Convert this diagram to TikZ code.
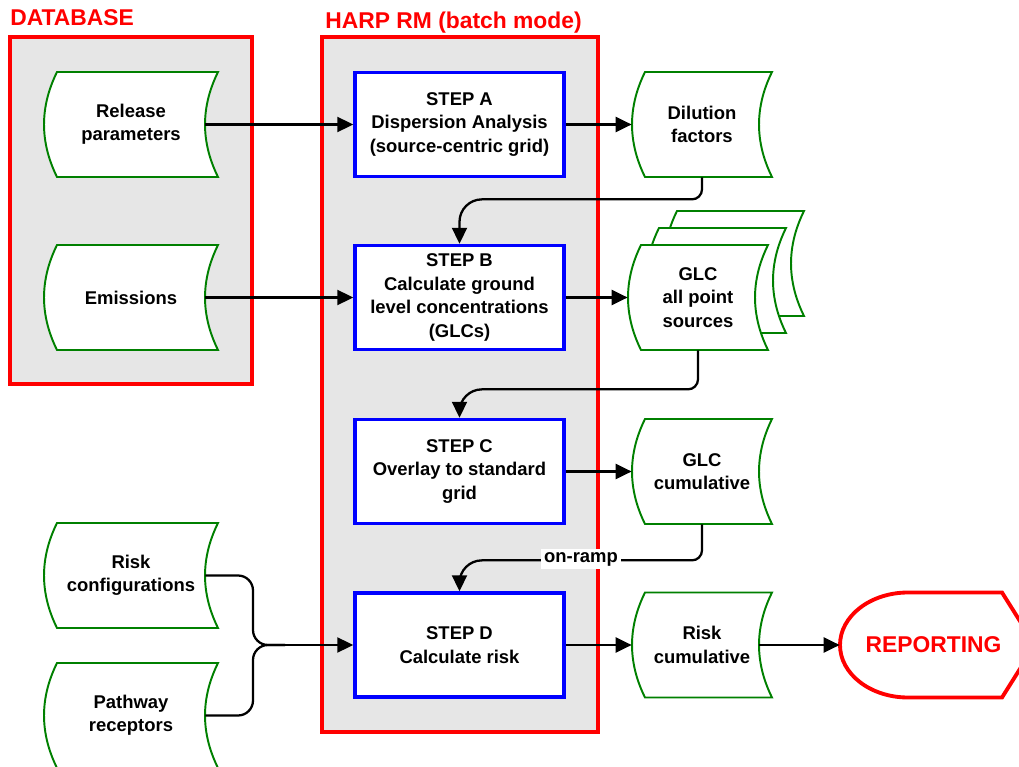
\documentclass[tikz,border=0pt]{standalone}
\usepackage{fontspec}
\setmainfont{Liberation Sans}
\usetikzlibrary{calc, arrows.meta}

\definecolor{panelgray}{RGB}{230,230,230}
\definecolor{storegreen}{RGB}{0,128,0}

\tikzset{
  panel/.style = {draw=red, fill=panelgray, line width=2.2pt},
  panel title/.style = {text=red, anchor=base west, inner sep=0pt,
                        font=\fontsize{13}{15}\selectfont\bfseries},
  stepbox/.style = {draw=blue, fill=white, line width=2pt, align=center,
                    minimum width=4.18cm, minimum height=2.08cm,
                    font=\fontsize{10.5}{13.3}\selectfont\bfseries},
  storeline/.style = {draw=storegreen, fill=white, line width=1.1pt},
  storetext/.style = {inner sep=0pt, align=center,
                      font=\fontsize{10.5}{13.3}\selectfont\bfseries},
  link/.style = {line width=1.3pt},
  arrow/.style = {link, -{Triangle[length=0.32cm, width=0.3cm]}},
  ramp/.style = {fill=white, inner sep=1.5pt, font=\fontsize{10.5}{13.3}\selectfont\bfseries}
}

% depth of the curved sides of a data store
\newcommand{\dip}{0.26cm}
% name, left, top, right, bottom, text
\newcommand{\datastore}[6]{%
  \draw[storeline] ({#2+13},#3) -- (#4,#3)
     .. controls ({#4-17.3},{#3+(#5-#3)/3}) and ({#4-17.3},{#5-(#5-#3)/3}) .. (#4,#5)
     -- ({#2+13},#5)
     .. controls ({#2-4.3},{#5-(#5-#3)/3}) and ({#2-4.3},{#3+(#5-#3)/3}) .. ({#2+13},#3)
     -- cycle;
  \node[storetext, minimum width={(#4-#2)*0.02cm}, minimum height={(#5-#3)*0.02cm}]
     (#1) at ({(#2+#4)/2},{(#3+#5)/2}) {#6};
}

\begin{document}
\begin{tikzpicture}[x=0.02cm, y=-0.02cm]
   \useasboundingbox (0,0) rectangle (1019,767);

   % panels
   \draw[panel] (10,37) rectangle (252,384);
   \node[panel title] (dbtitle) at (10,26) {DATABASE};
   \draw[panel] (322,37) rectangle (598,732);
   \node[panel title] (harptitle) at (325,29) {HARP RM (batch mode)};

   % steps
   \node[stepbox] (A) at (459.5,124.5) {STEP A\\Dispersion Analysis\\(source-centric grid)};
   \node[stepbox] (B) at (459.5,297.5) {STEP B\\Calculate ground\\level concentrations\\(GLCs)};
   \node[stepbox] (C) at (459.5,471.5) {STEP C\\Overlay to standard\\grid};
   \node[stepbox] (D) at (459.5,645)   {STEP D\\Calculate risk};

   % data
   \datastore{rel}{44}{72}{218}{177}{Release\\parameters}
   \datastore{emi}{44}{245}{218}{350}{Emissions}
   \datastore{rcf}{44}{523}{218}{628}{Risk\\configurations}
   \datastore{pwr}{44}{663}{218}{768}{Pathway\\receptors}
   \datastore{dil}{632}{72}{772}{177}{Dilution\\factors}
   \datastore{glcback}{664}{211}{804}{316}{}
   \datastore{glcmid}{646}{228}{786}{333}{}
   \datastore{glc}{628}{245}{768}{350}{GLC\\all point\\sources}
   \datastore{glcc}{632}{419}{772}{524}{GLC\\cumulative}
   \datastore{riskc}{632}{592.5}{772}{697.5}{Risk\\cumulative}

   \draw[draw=red, line width=2.2pt] (908,592.5) -- (1002,592.5) -- (1035,645) -- (1002,697.5) -- (908,697.5)
      .. controls (870.5,697.5) and (840,674) .. (840,645)
      .. controls (840,616) and (870.5,592.5) .. (908,592.5) -- cycle;
   \node[text=red, font=\fontsize{13}{15}\selectfont\bfseries, minimum width=3.74cm,
         minimum height=2.1cm, inner sep=0pt] (rep) at (933.5,645) {REPORTING};

   % connectors
   \draw[arrow] ([xshift=-\dip]rel.east) -- (A.west);
   \draw[arrow] (A.east) -- (dil.west);
   \draw[arrow, rounded corners=0.2cm] (dil.south) -- ++(0,22) [rounded corners=0.45cm] -| (B.north);
   \draw[arrow] ([xshift=-\dip]emi.east) -- (B.west);
   \draw[arrow] (B.east) -- (glc.west);
   \draw[arrow, rounded corners=0.2cm] (glc.south) -- ++(0,39) [rounded corners=0.45cm] -| (C.north);
   \draw[arrow] (C.east) -- (glcc.west);
   \draw[arrow, rounded corners=0.2cm] (glcc.south) -- ++(0,36) [rounded corners=0.45cm] -| (D.north);
   \node[ramp] (ramp) at (581,559) {on-ramp};

   \coordinate (bend) at (253,645);
   \coordinate (merge) at (285,645);
   \draw[link, rounded corners=0.3cm] ([xshift=-\dip]rcf.east) -| (bend) -- (merge);
   \draw[link, rounded corners=0.3cm] ([xshift=-\dip]pwr.east) -| (bend) -- (merge);
   \draw[arrow] (merge) -- (D.west);
   \draw[arrow] (D.east) -- (riskc.west);
   \draw[arrow] ([xshift=-\dip]riskc.east) -- (rep.west);
\end{tikzpicture}
\end{document}
